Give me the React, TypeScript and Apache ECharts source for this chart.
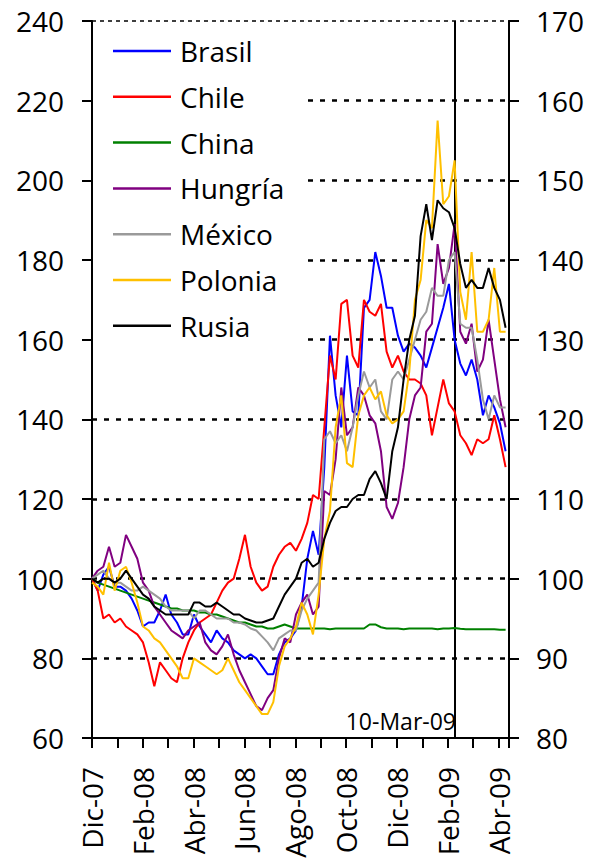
import React, { useEffect, useRef } from "react";
import * as echarts from "echarts";

// Sample spacing: one sample every 5 trading days, starting Dec-07
const SAMPLE_STEP = 5;
const X_MAX = 368; // trading days shown
const TICK_INTERVAL = 22.43; // trading days between ticks
const EVENT_DAY = 320; // 10-Mar-09

const tickLabels = ["Dic-07", "Feb-08", "Abr-08", "Jun-08", "Ago-08", "Oct-08", "Dic-08", "Feb-09", "Abr-09"];
const seriesNames = ["Brasil", "Chile", "China", "Hungría", "México", "Polonia", "Rusia"];
const seriesColors = ["#0000FF", "#FF0000", "#008000", "#800080", "#9A9A9A", "#FFC000", "#000000"];
const gridValues = [80, 100, 120, 140, 160, 180, 200, 220];

const brasil = [
  100, 97, 101, 103, 98, 98, 97, 95, 92, 88,
  89, 89, 92, 96, 91, 89, 86, 86, 91, 88,
  86, 84, 87, 85, 84, 82, 81, 80, 81, 80,
  78, 76, 76, 81, 84, 85, 87, 93, 105, 112,
  106, 128, 161, 146, 138, 156, 142, 141, 168, 170,
  182, 176, 168, 168, 161, 157, 159, 158, 156, 153,
  158, 163, 168, 174, 160, 154, 151, 155, 150, 141,
  146, 143, 139, 132,
];
const chile = [
  100, 97, 90, 91, 89, 90, 88, 87, 86, 84,
  79, 73, 79, 77, 75, 74, 80, 84, 87, 89,
  90, 91, 94, 97, 99, 100, 105, 111, 103, 99,
  97, 98, 103, 106, 108, 109, 107, 110, 114, 121,
  120, 138, 156, 150, 169, 170, 156, 153, 170, 167,
  166, 169, 157, 153, 156, 152, 150, 150, 149, 146,
  136, 143, 150, 144, 142, 136, 134, 131, 135, 134,
  135, 141, 135, 128,
];
const china = [
  100, 99, 98.5, 98, 97.5, 97, 96.5, 96, 95.5, 95,
  94.5, 94, 93.5, 93, 92.5, 92.5, 92, 92, 92, 91.5,
  91.5, 91, 91, 90.5, 90, 89.5, 89, 89, 88.5, 88,
  88, 87.5, 87.5, 88, 88.5, 88, 87.5, 87.5, 87.5, 87.5,
  87.5, 87.5, 87.3, 87.5, 87.5, 87.5, 87.5, 87.5, 87.5, 88.5,
  88.5, 87.8, 87.5, 87.5, 87.5, 87.3, 87.5, 87.5, 87.5, 87.5,
  87.5, 87.3, 87.5, 87.5, 87.6, 87.4, 87.3, 87.3, 87.3, 87.3,
  87.3, 87.3, 87.2, 87.2,
];
const hungria = [
  100, 102, 103, 108, 103, 104, 111, 108, 105, 99,
  97, 93, 91, 89, 87, 86, 85, 87, 88, 89,
  84, 82, 81, 83, 86, 81, 77, 74, 71, 68,
  67, 70, 72, 80, 85, 84, 91, 94, 96, 91,
  93, 122, 121, 130, 148, 136, 138, 148, 146, 141,
  139, 132, 118, 115, 119, 128, 140, 146, 148, 162,
  164, 184, 174, 178, 189, 162, 159, 164, 152, 155,
  165, 155, 145, 138,
];
const mexico = [
  100, 101, 102, 100, 99, 99, 98, 97, 97, 98,
  97, 96, 95, 93, 92, 92, 92, 92, 90, 92,
  92, 91, 90, 90, 90, 89, 89, 88.5, 87.5, 87,
  85.5, 84, 82, 85, 86, 87, 87, 92, 95, 97,
  99, 135, 137, 134, 136, 132, 138, 146, 152, 148,
  150, 142, 140, 150, 152, 150, 155, 160, 165, 167,
  173, 171, 171, 180, 182, 164, 163, 163, 155, 145,
  140, 146, 143, 143,
];
const polonia = [
  99, 98, 96, 104, 97, 102, 103, 99, 94, 88,
  87, 85, 84, 82, 80, 78, 75, 75, 80, 79,
  78, 77, 76, 77, 80, 77, 74, 72, 70, 68,
  66, 66, 69, 78, 83, 85, 88, 94, 91, 86,
  96, 110, 117, 138, 146, 129, 128, 141, 146, 148,
  145, 147, 141, 139, 140, 142, 152, 170, 175, 190,
  188, 215, 194, 196, 205, 172, 165, 182, 162, 162,
  165, 178, 162, 162,
];
const rusia = [
  100, 99, 100, 100, 99, 100, 102, 100, 98, 96,
  95, 93, 92, 91, 91, 91, 91, 91, 94, 94,
  93, 93, 94, 93, 92, 91, 91, 90, 89.5, 89,
  89, 89.5, 90, 93, 96, 98, 100, 104, 105, 103,
  104, 110, 114, 117, 118, 118, 120, 121, 121, 125,
  127, 124, 120, 132, 138, 150, 160, 166, 186, 194,
  185, 195, 193, 192, 188, 179, 173, 175, 173, 173,
  178, 173, 170, 163,
];

const allValues = [brasil, chile, china, hungria, mexico, polonia, rusia];
const FONT = '"Open Sans", sans-serif';

export default function App() {
  const ref = useRef<HTMLDivElement>(null);
  useEffect(() => {
    if (!ref.current) return;
    const chart = echarts.init(ref.current, null, { renderer: "svg" });
    const toPairs = (arr: number[]) => arr.map((v, i) => [i * SAMPLE_STEP, v]);
    const labelFor = (v: number) => {
      const idx = Math.round(v / TICK_INTERVAL);
      if (Math.abs(v - idx * TICK_INTERVAL) > 0.05) return "";
      if (idx % 2 !== 0) return "";
      return tickLabels[idx / 2] ?? "";
    };
    const series: any[] = [
      {
        name: "__grid",
        type: "line",
        data: [],
        z: 1,
        silent: true,
        markLine: {
          z: 1,
          silent: true,
          animation: false,
          symbol: ["none", "none"],
          label: { show: false },
          lineStyle: { color: "#000", width: 2.5, type: [5, 7] },
          data: [
            ...gridValues.map((v) => ({ yAxis: v })),
            { yAxis: 240, lineStyle: { color: "#000", width: 1.5, type: [4, 4] } },
            { xAxis: EVENT_DAY, lineStyle: { color: "#000", width: 2, type: "solid" } },
          ],
        },
      },
      ...seriesNames.map((name, i) => ({
        name,
        type: "line",
        z: 2,
        data: toPairs(allValues[i]),
        showSymbol: false,
        symbol: "none",
        silent: true,
        lineStyle: { color: seriesColors[i], width: 2 },
        itemStyle: { color: seriesColors[i] },
        emphasis: { disabled: true },
      })),
    ];
    chart.setOption({
      animation: false,
      backgroundColor: "#fff",
      grid: { left: 92, right: 83, top: 21, bottom: 124, containLabel: false },
      legend: {
        data: seriesNames,
        orient: "vertical",
        z: 6,
        left: 93,
        top: 28,
        padding: [9, 20, 6, 20],
        backgroundColor: "#fff",
        icon: "rect",
        itemWidth: 58,
        itemHeight: 2.5,
        itemGap: 17.8,
        selectedMode: false,
        textStyle: { fontSize: 28, fontFamily: FONT, color: "#000", padding: [0, 0, 0, 4] },
      },
      xAxis: {
        type: "value",
        min: 0,
        max: X_MAX,
        interval: TICK_INTERVAL,
        axisLine: { show: true, lineStyle: { color: "#000", width: 2 } },
        axisTick: { show: true, inside: false, length: 10, lineStyle: { color: "#000", width: 2 } },
        splitLine: { show: false },
        axisLabel: {
          rotate: 90,
          margin: 29,
          fontSize: 28,
          fontFamily: FONT,
          color: "#000",
          formatter: labelFor,
          showMinLabel: true,
          showMaxLabel: true,
        },
      },
      yAxis: [
        {
          type: "value",
          min: 60,
          max: 240,
          interval: 20,
          position: "left",
          axisLine: { show: true, lineStyle: { color: "#000", width: 2 } },
          axisTick: { show: true, inside: false, length: 10, lineStyle: { color: "#000", width: 2 } },
          splitLine: { show: false },
          axisLabel: { margin: 28, fontSize: 28, fontFamily: FONT, color: "#000" },
        },
        {
          type: "value",
          min: 80,
          max: 170,
          interval: 10,
          position: "right",
          axisLine: { show: true, lineStyle: { color: "#000", width: 2 } },
          axisTick: { show: true, inside: false, length: 10, lineStyle: { color: "#000", width: 2 } },
          splitLine: { show: false },
          axisLabel: { margin: 27, fontSize: 28, fontFamily: FONT, color: "#000" },
        },
      ],
      graphic: [
        {
          type: "text",
          x: 456,
          y: 721,
          z: 10,
          style: {
            text: "10-Mar-09",
            fontSize: 23,
            fontFamily: FONT,
            fill: "#000",
            align: "right",
            textAlign: "right",
            verticalAlign: "middle",
            textVerticalAlign: "middle",
          },
        },
      ],
      series,
    });
    return () => chart.dispose();
  }, []);
  return <div ref={ref} style={{ position: "absolute", left: 0, top: 0, width: 592, height: 862 }} />;
}
